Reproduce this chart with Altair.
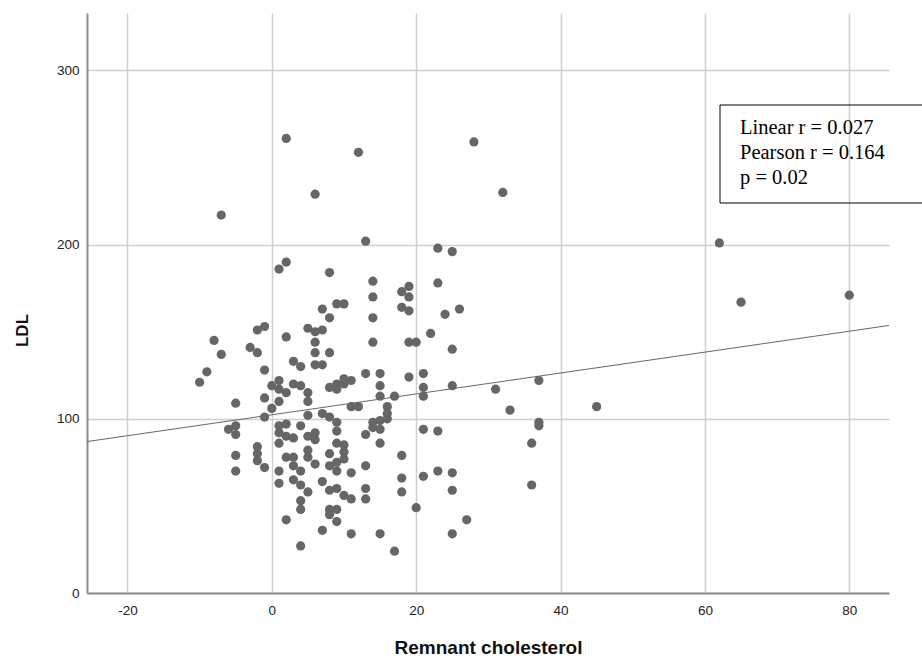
import altair as alt
import pandas as pd

# Remnant cholesterol (x) and LDL (y) for each subject
remnant = [
    2, 12, 28, 6, 32, -7, 13, 23, 25, 62, 65, 80, 45,
    1, 2, 8, 14, 14, 23, 18, 19, 19,
    7, 9, 10, 8, 14, 18, 19, 26, 24,
    5, 6, 7, 6, 6, 8, 14, 19, 20, 22, 25,
    -2, -1, 2, -8, -7, -3, -2,
    -9, -10, -1, 3, 4, 6, 7,
    13, 15, 19, 21,
    8, 9, 10, 11, 9, 10,
    1, 0, 1, 2, 3, 4, 5, 5,
    -1, 1, 0, -5, -1,
    15, 15, 17, 21, 21, 25, 31, 37,
    16, 16, 11, 12, 33,
    5, 7, 8,
    37, 37, 36, 36,
    14, 15, 16, 14, 15,
    21, 23, 13, 15, 18, 13, 11, 18, 18, 21, 23, 25, 25, 13, 13, 20, 27, 25, 11, 15, 17, 7, 4, 2,
    -6, -5, -5, -5, -5, -2, -2, -2, -1,
    1, 2, 1, 2, 3, 1, 4,
    5, 6, 6, 5, 5,
    2, 3, 3, 4, 6,
    1, 1, 3, 4, 5, 7,
    4, 4,
    9, 9, 9, 10, 8, 10, 10, 9, 8, 9, 8, 9, 10, 11, 8, 9, 8, 9,
]
ldl = [
    261, 253, 259, 229, 230, 217, 202, 198, 196, 201, 167, 171, 107,
    186, 190, 184, 179, 170, 178, 173, 176, 170,
    163, 166, 166, 158, 158, 164, 162, 163, 160,
    152, 150, 151, 144, 138, 138, 144, 144, 144, 149, 140,
    151, 153, 147, 145, 137, 141, 138,
    127, 121, 128, 133, 130, 131, 131,
    126, 126, 124, 126,
    118, 120, 123, 122, 117, 120,
    122, 119, 117, 115, 120, 119, 115, 110,
    112, 110, 106, 109, 101,
    119, 113, 113, 118, 113, 119, 117, 122,
    107, 103, 107, 107, 105,
    102, 103, 101,
    98, 96, 86, 62,
    98, 99, 100, 95, 94,
    94, 93, 91, 86, 79, 73, 69, 66, 58, 67, 70, 69, 59, 60, 54, 49, 42, 34, 34, 34, 24, 36, 27, 42,
    94, 96, 91, 79, 70, 84, 80, 76, 72,
    96, 97, 92, 90, 89, 86, 96,
    90, 92, 88, 82, 78,
    78, 78, 73, 70, 74,
    70, 63, 65, 62, 58, 64,
    53, 48,
    98, 93, 86, 85, 80, 81, 77, 75, 73, 70, 59, 60, 56, 54, 48, 48, 45, 41,
]

x_ticks = [-20, 0, 20, 40, 60, 80]
y_ticks = [0, 100, 200, 300]
x_domain = [-25.6, 85.5]
y_domain = [0, 333]

# Least-squares fit line
fit_intercept = 102.3
fit_slope = 0.60

stat_lines = ["Linear r = 0.027", "Pearson r = 0.164", "p = 0.02"]

points = pd.DataFrame({"rc": remnant, "ldl": ldl})
fit = pd.DataFrame({"rc": x_domain})
fit["ldl"] = fit_intercept + fit_slope * fit["rc"]

W, H = 802, 580

x_enc = alt.X(
    "rc:Q",
    scale=alt.Scale(domain=x_domain, nice=False, zero=False),
    axis=alt.Axis(
        values=x_ticks,
        labelExpr="'' + datum.value",
        title="Remnant cholesterol",
        titleX=W / 2,
        titleY=54,
        titleBaseline="middle",
    ),
)
y_enc = alt.Y(
    "ldl:Q",
    scale=alt.Scale(domain=y_domain, nice=False),
    axis=alt.Axis(
        values=y_ticks,
        title="LDL",
        titleX=-65,
        titleY=317,
        titleAngle=270,
        titleAlign="center",
        titleBaseline="middle",
    ),
)

dots = alt.Chart(points).mark_circle(size=85, opacity=1, color="#666666").encode(
    x=x_enc, y=y_enc
)

fit_line = alt.Chart(fit).mark_line(color="#666666", strokeWidth=1, clip=True).encode(
    x="rc:Q", y="ldl:Q"
)

box = alt.Chart(pd.DataFrame({"k": [0]})).mark_rect(
    fillOpacity=0, stroke="black", strokeWidth=1
).encode(
    x=alt.value(633), x2=alt.value(880), y=alt.value(92), y2=alt.value(190)
)

stat_layers = [
    alt.Chart(pd.DataFrame({"k": [0]})).mark_text(
        text=line,
        align="left",
        baseline="middle",
        font="Liberation Serif",
        fontSize=20.5,
        color="black",
    ).encode(x=alt.value(653), y=alt.value(115 + 25 * i))
    for i, line in enumerate(stat_lines)
]

chart = (
    alt.layer(dots, fit_line, box, *stat_layers)
    .properties(
        width=W,
        height=H,
        autosize=alt.AutoSizeParams(type="none"),
        padding={"left": 87, "top": 13, "right": 33, "bottom": 68},
        background="white",
    )
    .configure_view(stroke=None)
    .configure_axis(
        grid=True,
        gridColor="#cfcfcf",
        gridWidth=1.5,
        domainColor="#8c8c8c",
        domainWidth=2,
        ticks=False,
        labelFont="Liberation Sans",
        labelFontSize=13.5,
        labelColor="#222222",
        titleFont="Liberation Sans",
        titleFontWeight="bold",
        titleColor="#111111",
    )
    .configure_axisX(labelPadding=10, titleFontSize=19)
    .configure_axisY(labelPadding=8, titleFontSize=17)
)

chart.save("out.html", embed_options={"renderer": "svg", "actions": False})
